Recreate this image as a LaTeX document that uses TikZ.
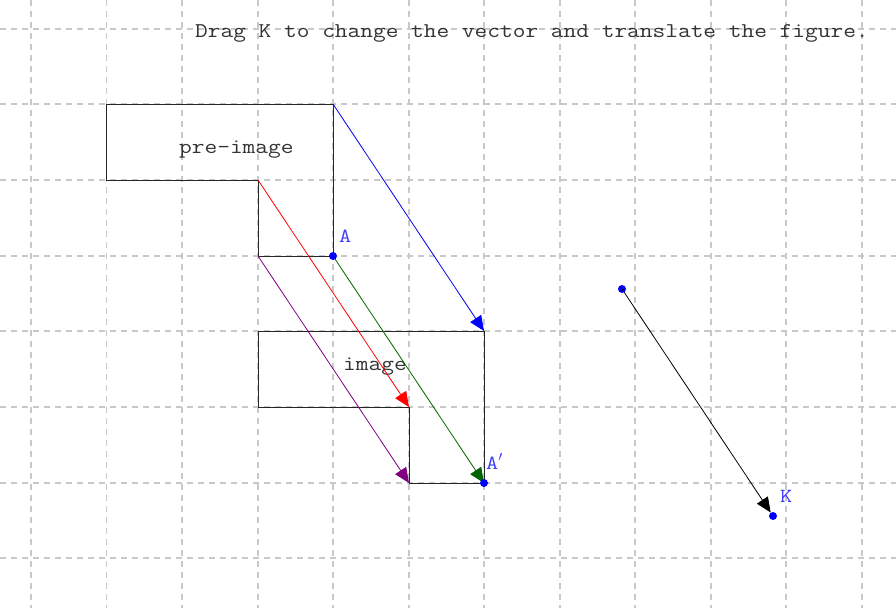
\documentclass[tikz,border=0pt]{standalone}
\usepackage{fontspec}
\setmonofont[FakeStretch=1.175]{Latin Modern Mono}
\usetikzlibrary{arrows.meta}
\definecolor{gridc}{RGB}{200,200,200}
\definecolor{lblue}{RGB}{60,60,255}
\definecolor{dgreen}{RGB}{0,100,0}
\definecolor{purp}{RGB}{128,0,128}
\begin{document}
\begin{tikzpicture}[x=1pt,y=-1pt,
  gridline/.style={gridc,line width=1.2pt,dash pattern=on 6pt off 5pt},
  outline/.style={black!85,line width=1pt},
  vec/.style={line width=0.8pt,-{Triangle[length=15pt,width=13pt]}},
  dot/.style={circle,fill=blue,inner sep=0pt,minimum size=8pt},
  ptlabel/.style={text=lblue,font=\ttfamily\fontsize{20}{20}\selectfont,inner sep=0pt,anchor=base west},
  txt/.style={text=black!80,font=\ttfamily\fontsize{21}{21}\selectfont,inner sep=0pt,anchor=base west}]
\useasboundingbox (0,0) rectangle (896,608);
\fill[white] (0,0) rectangle (896,608);
\foreach \x in {31,106.5,182,258,333,409,484,560,635,711,786,862}
  \draw[gridline] (\x,0) -- (\x,608);
\foreach \y in {29,104,180,256,331,407,483,558}
  \draw[gridline] (0,\y) -- (896,\y);
% pre-image
\coordinate (p1) at (106,104);
\coordinate (p2) at (333,104);
\coordinate (p3) at (333,256);
\coordinate (p4) at (258,256);
\coordinate (p5) at (258,180);
\coordinate (p6) at (106,180);
\draw[outline] (p1) -- (p2) -- (p3) -- (p4) -- (p5) -- (p6) -- cycle;
% image
\coordinate (q1) at (258,331);
\coordinate (q2) at (484,331);
\coordinate (q3) at (484,483);
\coordinate (q4) at (409,483);
\coordinate (q5) at (409,407);
\coordinate (q6) at (258,407);
\draw[outline] (q1) -- (q2) -- (q3) -- (q4) -- (q5) -- (q6) -- cycle;
\node[txt] (pre) at (179,153) {pre-image};
\node[txt] (img) at (343,370) {image};
\node[txt] (title) at (195,37) {Drag K to change the vector and translate the figure.};
% arrows
\draw[vec,blue] (p2) -- (q2);
\draw[vec,red] (p5) -- (q5);
\draw[vec,dgreen] (p3) -- (q3);
\draw[vec,purp] (p4) -- (q4);
% vector
\node[dot] (s) at (622,289) {};
\node[dot] (K) at (773,516) {};
\draw[vec,black] (s.center) -- (K);
\node[dot] (A) at (p3) {};
\node[dot] (A2) at (q3) {};
\node[ptlabel] (Alab) at (339,242) {A};
\node[ptlabel] (A2lab) at (486,469) {A$'$};
\node[ptlabel] (Klab) at (780,502) {K};
\end{tikzpicture}
\end{document}
